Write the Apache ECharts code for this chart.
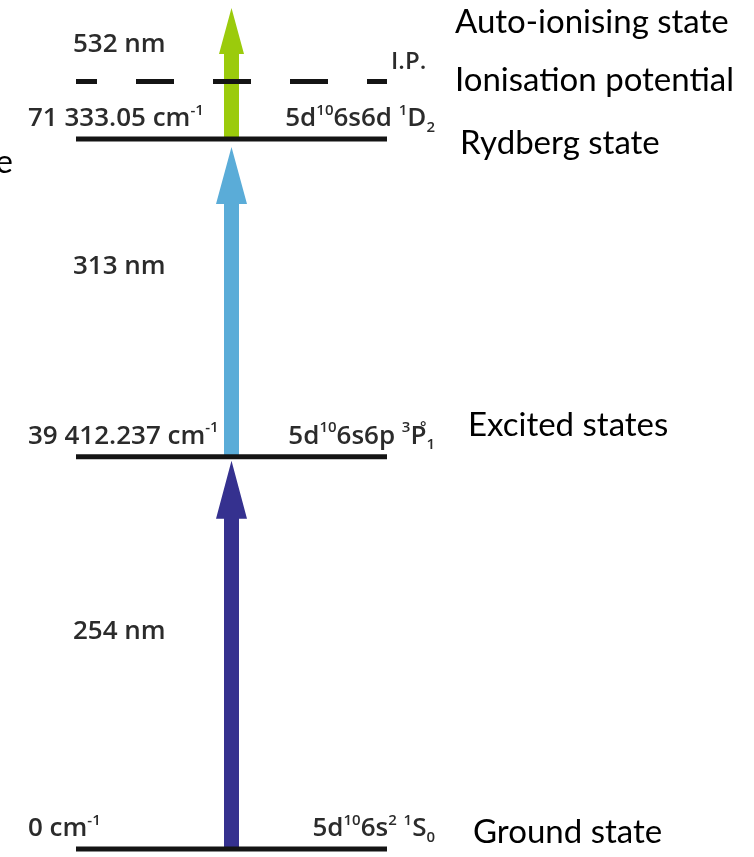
<!DOCTYPE html>
<html>
<head>
<meta charset="utf-8">
<script src="https://cdn.jsdelivr.net/npm/echarts@6/dist/echarts.min.js"></script>
<style>
  html, body { margin: 0; padding: 0; background: #fff; }
  #chart { width: 754px; height: 857px; }
</style>
</head>
<body>
<div id="chart"></div>
<script>
// Mercury energy levels used in the three-step ionisation scheme (cm^-1)
const levelEnergies = [0, 39412.237, 71333.05];
const levelEnergyText = ['0', '39 412.237', '71 333.05'];
const levelTerms = [
  '{n|5d}{sup|10}{n|6s}{sup|2}{n| }{sup|1}{n|S}{sub|0}',
  '{n|5d}{sup|10}{n|6s6p }{sup|3}{n|P}{deg|°}{sub|1}',
  '{n|5d}{sup|10}{n|6s6d }{sup|1}{n|D}{sub|2}'
];

// Schematic positions of the ionisation limit and the auto-ionising state
const ionisationPotential = 77100;
const autoIonisingEnergy = 84500;

// Laser excitation steps: wavelength (nm), lower and upper energy
const stepWavelengths = [254, 313, 532];
const stepFrom = [0, 39412.237, 71333.05];
const stepTo = [39412.237, 71333.05, autoIonisingEnergy];

// State names written beside the diagram
const stateNames = ['Auto-ionising state', 'Ionisation potential', 'Rydberg state', 'Excited states', 'Ground state'];

const arrowStyles = [
  { color: '#35318f', headWidth: 31, headLength: 58, tipGap: 4 },
  { color: '#5aacd8', headWidth: 31, headLength: 57, tipGap: 8 },
  { color: '#9bcb0c', headWidth: 25, headLength: 46, tipGap: 0 }
];

const labelColor = '#2b2b2b';
const labelFont = 'Open Sans';
const rich = {
  n:   { fontFamily: labelFont, fontWeight: 600, fontSize: 26, lineHeight: 32, fill: labelColor },
  sup: { fontFamily: labelFont, fontWeight: 600, fontSize: 15, lineHeight: 21, verticalAlign: 'top', fill: labelColor },
  deg: { fontFamily: labelFont, fontWeight: 600, fontSize: 15, lineHeight: 16, verticalAlign: 'top', width: 0, fill: labelColor },
  sub: { fontFamily: labelFont, fontWeight: 600, fontSize: 15, lineHeight: 15, verticalAlign: 'bottom', fill: labelColor }
};

function renderLevel(params, api) {
  const i = params.dataIndex;
  const e = api.value(0);
  const p0 = api.coord([0, e]);
  const p1 = api.coord([1, e]);
  return {
    type: 'group',
    children: [
      { type: 'line', shape: { x1: p0[0], y1: p0[1], x2: p1[0], y2: p1[1] },
        style: { stroke: '#141414', lineWidth: 5 } },
      { type: 'text', x: p0[0] - 48, y: p0[1] - 20,
        style: { text: '{n|' + levelEnergyText[i] + ' cm}{sup|-1}', rich: rich, align: 'left', verticalAlign: 'middle' } },
      { type: 'text', x: p1[0] + 48, y: p1[1] - 20,
        style: { text: levelTerms[i], rich: rich, align: 'right', verticalAlign: 'middle' } }
    ]
  };
}

function renderLimit(params, api) {
  const e = api.value(0);
  const p0 = api.coord([0, e]);
  const p1 = api.coord([1, e]);
  return {
    type: 'group',
    children: [
      { type: 'line', shape: { x1: p0[0], y1: p0[1], x2: p1[0], y2: p1[1] },
        style: { stroke: '#141414', lineWidth: 5, lineDash: [38, 39], lineDashOffset: 17 } },
      { type: 'text', x: p1[0] + 4, y: p1[1] - 19,
        style: { text: 'I.P.', fontFamily: labelFont, fontWeight: 600, fontSize: 24, fill: labelColor,
                 align: 'left', verticalAlign: 'middle' } }
    ]
  };
}

function renderStep(params, api) {
  const i = params.dataIndex;
  const st = arrowStyles[i];
  const a = api.coord([0.5, api.value(0)]);
  const b = api.coord([0.5, api.value(1)]);
  const cx = a[0], y0 = a[1], yt = b[1] + st.tipGap;
  const sw = 7.5, hw = st.headWidth / 2, hb = yt + st.headLength;
  return {
    type: 'polygon',
    shape: { points: [[cx - sw, y0], [cx - sw, hb], [cx - hw, hb], [cx, yt], [cx + hw, hb], [cx + sw, hb], [cx + sw, y0]] },
    style: { fill: st.color }
  };
}

const chart = echarts.init(document.getElementById('chart'), null, { renderer: 'canvas' });

const nameFont = { fontFamily: 'Lato', fontSize: 33, fill: '#000', align: 'left', verticalAlign: 'middle' };
const nameAt = [[455, 22], [455, 80], [460, 143], [468, 425], [473, 832]];

chart.setOption({
  animation: false,
  backgroundColor: '#fff',
  grid: { left: 76, right: 367, top: 0, bottom: 8 },
  xAxis: { type: 'value', min: 0, max: 1, show: false },
  yAxis: { type: 'value', min: 0, max: 85300, show: false },
  series: [
    {
      type: 'custom', name: 'steps', z: 1,
      data: stepFrom.map((f, i) => [f, stepTo[i], stepWavelengths[i]]),
      encode: { y: [0, 1] },
      renderItem: renderStep
    },
    {
      type: 'custom', name: 'levels', z: 2,
      data: levelEnergies.map(e => [e]),
      encode: { y: 0 },
      renderItem: renderLevel
    },
    {
      type: 'custom', name: 'limit', z: 2,
      data: [[ionisationPotential]],
      encode: { y: 0 },
      renderItem: renderLimit
    }
  ],
  graphic: [
    // wavelength of each excitation step
    ...stepWavelengths.map((w, i) => ({
      type: 'text', x: 73, y: [632, 267, 45][i],
      style: { text: w + ' nm', fontFamily: labelFont, fontWeight: 600, fontSize: 26, fill: labelColor,
               align: 'left', verticalAlign: 'middle' }
    })),
    // state names
    ...stateNames.map((s, i) => ({
      type: 'text', x: nameAt[i][0], y: nameAt[i][1],
      style: Object.assign({ text: s }, nameFont)
    })),
    // trailing letter of a heading that runs off the left edge
    { type: 'text', x: 13, y: 162, style: { text: 'e', fontFamily: 'Lato', fontSize: 33, fill: '#000', align: 'right', verticalAlign: 'middle' } }
  ]
});
</script>
</body>
</html>
